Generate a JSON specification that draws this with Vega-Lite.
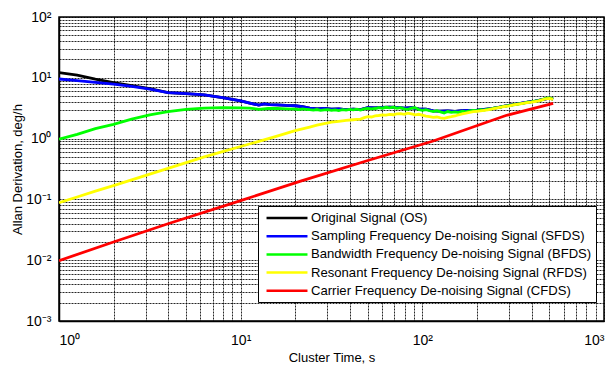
{
  "$schema": "https://vega.github.io/schema/vega-lite/v6.json",
  "width": 545,
  "height": 304,
  "autosize": {"type": "none"},
  "padding": {"left": 59, "top": 17, "right": 8, "bottom": 45},
  "background": "white",
  "config": {
    "font": "Liberation Sans",
    "view": {"stroke": "black", "strokeWidth": 1.5},
    "axis": {
      "grid": true, "gridColor": "black", "gridDash": [2, 1], "gridWidth": 1, "gridOpacity": 0.85,
      "ticks": false, "domainColor": "black", "domainWidth": 1.5,
      "labelColor": "black", "labelFontSize": 14, "labelOverlap": false,
      "titleColor": "black", "titleFontSize": 13, "titleFontWeight": "normal"
    },
    "legend": {
      "orient": "none", "legendX": 199, "legendY": 189,
      "strokeColor": "black", "fillColor": "white", "padding": 4,
      "symbolType": "M-3.15,0H3.15", "symbolSize": 169, "symbolStrokeWidth": 2.5, "symbolOffset": 17,
      "labelFontSize": 13.1, "labelColor": "black", "labelLimit": 400, "labelOffset": 16,
      "rowPadding": 2.2, "title": null
    }
  },
  "data": {"values": [
    {"s":"OS","x":1,"y":12.13},{"s":"OS","x":1.259,"y":11.09},{"s":"OS","x":1.585,"y":9.55},{"s":"OS","x":1.995,"y":8.356},{"s":"OS","x":2.512,"y":7.413},{"s":"OS","x":3.162,"y":6.607},{"s":"OS","x":3.981,"y":5.715},{"s":"OS","x":5.012,"y":5.495},{"s":"OS","x":6.31,"y":5.248},{"s":"OS","x":7.943,"y":4.732},{"s":"OS","x":10,"y":4.169},{"s":"OS","x":11.22,"y":3.846},{"s":"OS","x":12.59,"y":3.548},{"s":"OS","x":13.49,"y":3.733},{"s":"OS","x":14.45,"y":3.631},{"s":"OS","x":15.85,"y":3.589},{"s":"OS","x":17.78,"y":3.508},{"s":"OS","x":19.95,"y":3.467},{"s":"OS","x":21.88,"y":3.35},{"s":"OS","x":23.99,"y":3.162},{"s":"OS","x":26.3,"y":3.076},{"s":"OS","x":28.84,"y":3.126},{"s":"OS","x":31.62,"y":3.055},{"s":"OS","x":34.67,"y":3.09},{"s":"OS","x":38.02,"y":3.006},{"s":"OS","x":41.69,"y":3.048},{"s":"OS","x":45.71,"y":2.992},{"s":"OS","x":50.12,"y":3.221},{"s":"OS","x":54.95,"y":3.199},{"s":"OS","x":60.26,"y":3.251},{"s":"OS","x":66.07,"y":3.289},{"s":"OS","x":72.44,"y":3.251},{"s":"OS","x":79.43,"y":3.177},{"s":"OS","x":87.1,"y":3.236},{"s":"OS","x":95.5,"y":3.09},{"s":"OS","x":104.7,"y":3.055},{"s":"OS","x":114.8,"y":2.864},{"s":"OS","x":125.9,"y":2.831},{"s":"OS","x":138,"y":2.851},{"s":"OS","x":151.4,"y":2.805},{"s":"OS","x":166,"y":2.884},{"s":"OS","x":182,"y":2.917},{"s":"OS","x":199.5,"y":2.951},{"s":"OS","x":218.8,"y":3.02},{"s":"OS","x":239.9,"y":3.105},{"s":"OS","x":263,"y":3.251},{"s":"OS","x":288.4,"y":3.467},{"s":"OS","x":316.2,"y":3.631},{"s":"OS","x":346.7,"y":3.784},{"s":"OS","x":380.2,"y":3.981},{"s":"OS","x":416.9,"y":4.121},{"s":"OS","x":457.1,"y":4.365},{"s":"OS","x":501.2,"y":4.624},{"s":"OS","x":524.8,"y":4.467},

    {"s":"SFDS","x":1,"y":9.55},{"s":"SFDS","x":1.259,"y":9.016},{"s":"SFDS","x":1.585,"y":8.414},{"s":"SFDS","x":1.995,"y":7.889},{"s":"SFDS","x":2.512,"y":7.244},{"s":"SFDS","x":3.162,"y":6.531},{"s":"SFDS","x":3.981,"y":5.689},{"s":"SFDS","x":5.012,"y":5.495},{"s":"SFDS","x":6.31,"y":5.248},{"s":"SFDS","x":7.943,"y":4.732},{"s":"SFDS","x":10,"y":4.169},{"s":"SFDS","x":11.22,"y":3.846},{"s":"SFDS","x":12.59,"y":3.548},{"s":"SFDS","x":13.49,"y":3.733},{"s":"SFDS","x":14.45,"y":3.631},{"s":"SFDS","x":15.85,"y":3.589},{"s":"SFDS","x":17.78,"y":3.508},{"s":"SFDS","x":19.95,"y":3.467},{"s":"SFDS","x":21.88,"y":3.35},{"s":"SFDS","x":23.99,"y":3.162},{"s":"SFDS","x":26.3,"y":3.076},{"s":"SFDS","x":28.84,"y":3.126},{"s":"SFDS","x":31.62,"y":3.055},{"s":"SFDS","x":34.67,"y":3.09},{"s":"SFDS","x":38.02,"y":3.006},{"s":"SFDS","x":41.69,"y":3.048},{"s":"SFDS","x":45.71,"y":2.992},{"s":"SFDS","x":50.12,"y":3.221},{"s":"SFDS","x":54.95,"y":3.199},{"s":"SFDS","x":60.26,"y":3.251},{"s":"SFDS","x":66.07,"y":3.289},{"s":"SFDS","x":72.44,"y":3.251},{"s":"SFDS","x":79.43,"y":3.177},{"s":"SFDS","x":87.1,"y":3.236},{"s":"SFDS","x":95.5,"y":3.09},{"s":"SFDS","x":104.7,"y":3.055},{"s":"SFDS","x":114.8,"y":2.864},{"s":"SFDS","x":125.9,"y":2.831},{"s":"SFDS","x":138,"y":2.851},{"s":"SFDS","x":151.4,"y":2.805},{"s":"SFDS","x":166,"y":2.884},{"s":"SFDS","x":182,"y":2.917},{"s":"SFDS","x":199.5,"y":2.951},{"s":"SFDS","x":218.8,"y":3.02},{"s":"SFDS","x":239.9,"y":3.105},{"s":"SFDS","x":263,"y":3.251},{"s":"SFDS","x":288.4,"y":3.467},{"s":"SFDS","x":316.2,"y":3.631},{"s":"SFDS","x":346.7,"y":3.784},{"s":"SFDS","x":380.2,"y":3.981},{"s":"SFDS","x":416.9,"y":4.121},{"s":"SFDS","x":457.1,"y":4.365},{"s":"SFDS","x":501.2,"y":4.624},{"s":"SFDS","x":524.8,"y":4.467},

    {"s":"BFDS","x":1,"y":0.975},{"s":"BFDS","x":1.259,"y":1.175},{"s":"BFDS","x":1.585,"y":1.462},{"s":"BFDS","x":1.995,"y":1.718},{"s":"BFDS","x":2.512,"y":2.089},{"s":"BFDS","x":3.162,"y":2.455},{"s":"BFDS","x":3.981,"y":2.767},{"s":"BFDS","x":5.012,"y":3.02},{"s":"BFDS","x":6.31,"y":3.162},{"s":"BFDS","x":7.943,"y":3.236},{"s":"BFDS","x":10,"y":3.199},{"s":"BFDS","x":11.22,"y":3.162},{"s":"BFDS","x":12.59,"y":3.034},{"s":"BFDS","x":14.13,"y":3.126},{"s":"BFDS","x":15.85,"y":3.148},{"s":"BFDS","x":17.78,"y":3.09},
    {"s":"BFDS","x":19.95,"y":3.055},{"s":"BFDS","x":20.89,"y":3.006},{"s":"BFDS","x":21.88,"y":3.09},{"s":"BFDS","x":22.91,"y":3.034},{"s":"BFDS","x":23.99,"y":2.985},{"s":"BFDS","x":25.12,"y":2.951},{"s":"BFDS","x":26.3,"y":3.006},{"s":"BFDS","x":27.54,"y":2.917},{"s":"BFDS","x":28.84,"y":2.979},{"s":"BFDS","x":30.2,"y":3.006},{"s":"BFDS","x":31.62,"y":2.924},{"s":"BFDS","x":33.11,"y":2.965},{"s":"BFDS","x":34.67,"y":2.897},{"s":"BFDS","x":36.31,"y":2.985},{"s":"BFDS","x":38.02,"y":2.938},{"s":"BFDS","x":39.81,"y":3.02},{"s":"BFDS","x":41.69,"y":2.965},{"s":"BFDS","x":43.65,"y":3.055},{"s":"BFDS","x":45.71,"y":2.951},{"s":"BFDS","x":47.86,"y":3.09},{"s":"BFDS","x":50.12,"y":3.148},{"s":"BFDS","x":52.48,"y":3.076},{"s":"BFDS","x":54.95,"y":3.126},{"s":"BFDS","x":57.54,"y":3.236},{"s":"BFDS","x":60.26,"y":3.162},{"s":"BFDS","x":63.1,"y":3.273},{"s":"BFDS","x":66.07,"y":3.199},{"s":"BFDS","x":69.18,"y":3.296},{"s":"BFDS","x":72.44,"y":3.162},{"s":"BFDS","x":75.86,"y":3.221},{"s":"BFDS","x":79.43,"y":3.09},{"s":"BFDS","x":83.18,"y":3.034},{"s":"BFDS","x":87.1,"y":3.162},{"s":"BFDS","x":91.2,"y":3.236},{"s":"BFDS","x":95.5,"y":3.006},{"s":"BFDS","x":100,"y":2.917},{"s":"BFDS","x":104.7,"y":2.985},{"s":"BFDS","x":109.6,"y":2.871},{"s":"BFDS","x":114.8,"y":2.786},{"s":"BFDS","x":120.2,"y":2.884},{"s":"BFDS","x":125.9,"y":2.754},{"s":"BFDS","x":131.8,"y":2.642},{"s":"BFDS","x":138,"y":2.786},{"s":"BFDS","x":144.5,"y":2.692},{"s":"BFDS","x":151.4,"y":2.742},{"s":"BFDS","x":158.5,"y":2.692},{"s":"BFDS","x":166,"y":2.818},{"s":"BFDS","x":173.8,"y":2.754},{"s":"BFDS","x":182,"y":2.851},{"s":"BFDS","x":190.5,"y":2.897},{"s":"BFDS","x":199.5,"y":2.871},{"s":"BFDS","x":208.9,"y":2.985},{"s":"BFDS","x":218.8,"y":2.951},{"s":"BFDS","x":229.1,"y":3.055},{"s":"BFDS","x":239.9,"y":3.09},{"s":"BFDS","x":251.2,"y":3.199},{"s":"BFDS","x":263,"y":3.236},{"s":"BFDS","x":275.4,"y":3.35},{"s":"BFDS","x":288.4,"y":3.428},{"s":"BFDS","x":302,"y":3.508},{"s":"BFDS","x":316.2,"y":3.589},{"s":"BFDS","x":331.1,"y":3.673},{"s":"BFDS","x":346.7,"y":3.758},{"s":"BFDS","x":363.1,"y":3.846},{"s":"BFDS","x":380.2,"y":3.981},{"s":"BFDS","x":398.1,"y":4.027},{"s":"BFDS","x":416.9,"y":4.121},{"s":"BFDS","x":436.5,"y":4.217},{"s":"BFDS","x":457.1,"y":4.365},{"s":"BFDS","x":478.6,"y":4.571},{"s":"BFDS","x":501.2,"y":4.656},{"s":"BFDS","x":524.8,"y":4.467},

    {"s":"RFDS","x":1,"y":0.0883},{"s":"RFDS","x":1.259,"y":0.1096},{"s":"RFDS","x":1.585,"y":0.1365},{"s":"RFDS","x":1.995,"y":0.169},{"s":"RFDS","x":2.512,"y":0.2089},{"s":"RFDS","x":3.162,"y":0.26},{"s":"RFDS","x":3.981,"y":0.3236},{"s":"RFDS","x":5.012,"y":0.4027},{"s":"RFDS","x":6.31,"y":0.5012},{"s":"RFDS","x":7.943,"y":0.6095},{"s":"RFDS","x":10,"y":0.7413},{"s":"RFDS","x":12.59,"y":0.9016},{"s":"RFDS","x":15.85,"y":1.0965},{"s":"RFDS","x":19.95,"y":1.349},{"s":"RFDS","x":21.88,"y":1.445},{"s":"RFDS","x":23.99,"y":1.549},{"s":"RFDS","x":26.3,"y":1.66},{"s":"RFDS","x":28.84,"y":1.758},{"s":"RFDS","x":31.62,"y":1.862},{"s":"RFDS","x":34.67,"y":1.928},{"s":"RFDS","x":38.02,"y":1.995},{"s":"RFDS","x":41.69,"y":2.042},{"s":"RFDS","x":43.65,"y":2.065},{"s":"RFDS","x":45.71,"y":2.089},{"s":"RFDS","x":47.86,"y":2.213},{"s":"RFDS","x":50.12,"y":2.291},{"s":"RFDS","x":52.48,"y":2.265},{"s":"RFDS","x":54.95,"y":2.355},{"s":"RFDS","x":57.54,"y":2.399},{"s":"RFDS","x":60.26,"y":2.455},{"s":"RFDS","x":63.1,"y":2.427},{"s":"RFDS","x":66.07,"y":2.5},{"s":"RFDS","x":69.18,"y":2.466},{"s":"RFDS","x":72.44,"y":2.541},{"s":"RFDS","x":75.86,"y":2.57},{"s":"RFDS","x":79.43,"y":2.5},{"s":"RFDS","x":83.18,"y":2.618},{"s":"RFDS","x":87.1,"y":2.541},{"s":"RFDS","x":91.2,"y":2.455},{"s":"RFDS","x":95.5,"y":2.512},{"s":"RFDS","x":100,"y":2.427},{"s":"RFDS","x":104.7,"y":2.344},{"s":"RFDS","x":109.6,"y":2.301},{"s":"RFDS","x":114.8,"y":2.239},{"s":"RFDS","x":120.2,"y":2.265},{"s":"RFDS","x":125.9,"y":2.188},{"s":"RFDS","x":131.8,"y":2.148},{"s":"RFDS","x":138,"y":2.239},{"s":"RFDS","x":144.5,"y":2.291},{"s":"RFDS","x":151.4,"y":2.355},{"s":"RFDS","x":158.5,"y":2.466},{"s":"RFDS","x":166,"y":2.541},{"s":"RFDS","x":173.8,"y":2.618},{"s":"RFDS","x":182,"y":2.692},{"s":"RFDS","x":190.5,"y":2.767},{"s":"RFDS","x":199.5,"y":2.805},{"s":"RFDS","x":208.9,"y":2.851},{"s":"RFDS","x":218.8,"y":2.917},{"s":"RFDS","x":229.1,"y":2.965},{"s":"RFDS","x":239.9,"y":3.055},{"s":"RFDS","x":251.2,"y":3.148},{"s":"RFDS","x":263,"y":3.236},{"s":"RFDS","x":275.4,"y":3.311},{"s":"RFDS","x":288.4,"y":3.404},{"s":"RFDS","x":302,"y":3.467},{"s":"RFDS","x":316.2,"y":3.573},{"s":"RFDS","x":331.1,"y":3.648},{"s":"RFDS","x":346.7,"y":3.733},{"s":"RFDS","x":363.1,"y":3.819},{"s":"RFDS","x":380.2,"y":3.908},{"s":"RFDS","x":398.1,"y":3.981},{"s":"RFDS","x":416.9,"y":4.074},{"s":"RFDS","x":436.5,"y":4.169},{"s":"RFDS","x":457.1,"y":4.345},{"s":"RFDS","x":478.6,"y":4.519},{"s":"RFDS","x":501.2,"y":4.592},{"s":"RFDS","x":524.8,"y":4.426},

    {"s":"CFDS","x":1,"y":0.00982},{"s":"CFDS","x":1.995,"y":0.01995},{"s":"CFDS","x":3.981,"y":0.03981},{"s":"CFDS","x":10,"y":0.0955},{"s":"CFDS","x":21.38,"y":0.1995},{"s":"CFDS","x":50.12,"y":0.4365},{"s":"CFDS","x":114.8,"y":0.912},{"s":"CFDS","x":173.8,"y":1.413},{"s":"CFDS","x":288.4,"y":2.399},{"s":"CFDS","x":524.8,"y":3.802}
  ]},
  "mark": {"type": "line", "strokeWidth": 2.8, "clip": true},
  "encoding": {
    "x": {
      "field": "x", "type": "quantitative",
      "scale": {"type": "log", "domain": [1, 1000], "nice": false},
      "axis": {
        "title": "Cluster Time, s",
        "values": [1,2,3,4,5,6,7,8,9,10,20,30,40,50,60,70,80,90,100,200,300,400,500,600,700,800,900,1000],
        "labelExpr": "datum.value == 1 ? '10⁰' : datum.value == 10 ? '10¹' : datum.value == 100 ? '10²' : datum.value == 1000 ? '10³' : ''",
        "labelPadding": 12,
        "titleY": 40, "titleBaseline": "alphabetic"
      }
    },
    "y": {
      "field": "y", "type": "quantitative",
      "scale": {"type": "log", "domain": [0.001, 100], "nice": false},
      "axis": {
        "title": "Allan Derivation, deg/h",
        "values": [0.001,0.002,0.003,0.004,0.005,0.006,0.007,0.008,0.009,0.01,0.02,0.03,0.04,0.05,0.06,0.07,0.08,0.09,0.1,0.2,0.3,0.4,0.5,0.6,0.7,0.8,0.9,1,2,3,4,5,6,7,8,9,10,20,30,40,50,60,70,80,90,100],
        "labelExpr": "datum.value == 0.001 ? '10⁻³' : datum.value == 0.01 ? '10⁻²' : datum.value == 0.1 ? '10⁻¹' : datum.value == 1 ? '10⁰' : datum.value == 10 ? '10¹' : datum.value == 100 ? '10²' : ''",
        "labelPadding": 8,
        "titleX": -42, "titleY": 152, "titleAngle": -90, "titleAlign": "center", "titleBaseline": "middle"
      }
    },
    "color": {
      "field": "s", "type": "nominal",
      "scale": {"domain": ["OS", "SFDS", "BFDS", "RFDS", "CFDS"], "range": ["#000000", "#0000ff", "#00ff00", "#ffff00", "#ff0000"]},
      "legend": {
        "labelExpr": "datum.label == 'OS' ? 'Original Signal (OS)' : datum.label == 'SFDS' ? 'Sampling Frequency De-noising Signal (SFDS)' : datum.label == 'BFDS' ? 'Bandwidth Frequency De-noising Signal (BFDS)' : datum.label == 'RFDS' ? 'Resonant Frequency De-noising Signal (RFDS)' : 'Carrier Frequency De-noising Signal (CFDS)'"
      }
    }
  }
}
